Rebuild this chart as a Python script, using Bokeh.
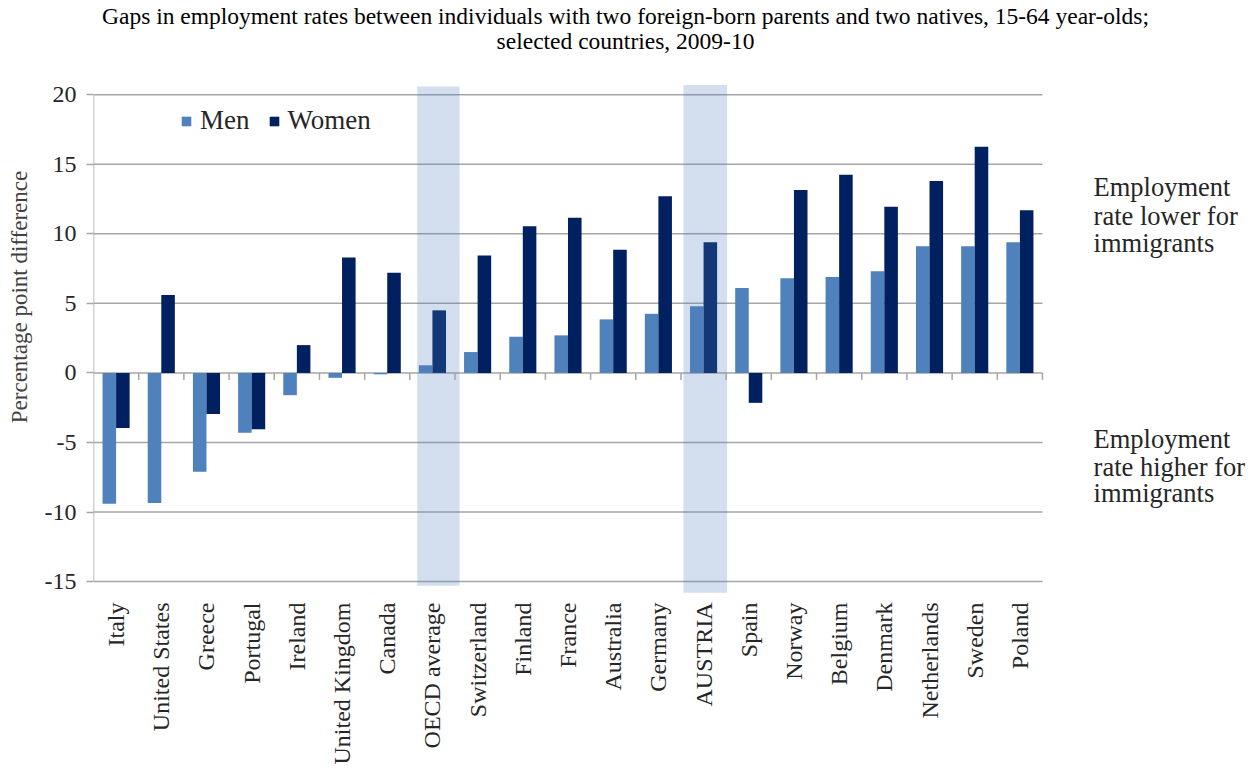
import math
from bokeh.plotting import figure
from bokeh.models import Range1d, FixedTicker, Label, Legend, LegendItem, ColumnDataSource
from bokeh.transform import dodge
from bokeh.embed import file_html
from bokeh.resources import INLINE

countries = ["Italy", "United States", "Greece", "Portugal", "Ireland", "United Kingdom",
             "Canada", "OECD average", "Switzerland", "Finland", "France", "Australia",
             "Germany", "AUSTRIA", "Spain", "Norway", "Belgium", "Denmark", "Netherlands",
             "Sweden", "Poland"]
men = [-9.4, -9.35, -7.1, -4.3, -1.6, -0.35, -0.1, 0.55, 1.5, 2.6, 2.7, 3.85,
       4.25, 4.8, 6.1, 6.8, 6.9, 7.3, 9.1, 9.1, 9.4]
women = [-3.95, 5.6, -2.95, -4.05, 2.0, 8.3, 7.2, 4.5, 8.45, 10.55, 11.15, 8.85,
         12.7, 9.4, -2.15, 13.15, 14.25, 11.95, 13.8, 16.25, 11.7]
highlighted = ["OECD average", "AUSTRIA"]
y_ticks = [-15, -10, -5, 0, 5, 10, 15, 20]
title_lines = ["Gaps in employment rates between individuals with two foreign-born parents "
               "and two natives, 15-64 year-olds;",
               "selected countries, 2009-10"]
note_lower = ["Employment", "rate lower for", "immigrants"]
note_higher = ["Employment", "rate higher for", "immigrants"]

FONT = "Liberation Serif"
MEN_C = "#4F81BD"
WOMEN_C = "#002060"
GRID_C = "#A6A6A6"
TEXT_C = "#262626"

W, H = 1250, 767
idx = list(range(len(countries)))
n = len(countries)

p = figure(width=W, height=H, output_backend="svg", toolbar_location=None,
           x_range=Range1d(-0.5, -0.5 + (W - 93) / 45.19),
           y_range=Range1d(-15.855, 26.771),
           min_border_left=93, min_border_right=0, min_border_top=0, min_border_bottom=H - 598)
p.outline_line_color = None
p.background_fill_color = "white"
p.border_fill_color = "white"
p.xgrid.grid_line_color = None
p.ygrid.grid_line_color = None

# horizontal gridlines over the category span
p.segment(x0=[-0.5] * len(y_ticks), y0=y_ticks, x1=[n - 0.5] * len(y_ticks), y1=y_ticks,
          line_color=GRID_C, line_width=1.5)

# bars
src = ColumnDataSource(dict(x=idx, men=men, women=women))
rm = p.vbar(x=dodge("x", -0.15), top="men", bottom=0, width=0.3, source=src,
            fill_color=MEN_C, line_color=None)
rw = p.vbar(x=dodge("x", 0.15), top="women", bottom=0, width=0.3, source=src,
            fill_color=WOMEN_C, line_color=None)

# highlight bands (drawn on top, translucent)
band_off = {"OECD average": (-0.336, 0.60, -15.3, 20.59), "AUSTRIA": (-0.445, 0.52, -15.8, 20.7)}
hl_i = [countries.index(c) for c in highlighted]
p.quad(left=[i + band_off[c][0] for i, c in zip(hl_i, highlighted)],
       right=[i + band_off[c][1] for i, c in zip(hl_i, highlighted)],
       bottom=[band_off[c][2] for c in highlighted],
       top=[band_off[c][3] for c in highlighted],
       fill_color=MEN_C, fill_alpha=0.25, line_color=None)

# y axis line and boundary ticks on zero line
p.segment(x0=[-0.5], y0=[min(y_ticks)], x1=[-0.5], y1=[max(y_ticks)], line_color=GRID_C, line_width=1.5)
bounds = [i + 0.5 for i in idx]
p.segment(x0=bounds, y0=[0] * len(bounds), x1=bounds, y1=[-0.5] * len(bounds),
          line_color=GRID_C, line_width=1.5)

# y axis
p.yaxis.ticker = FixedTicker(ticks=y_ticks)
p.yaxis.major_label_overrides = {t: str(t) for t in y_ticks}
p.yaxis.axis_line_color = None
p.yaxis.major_tick_in = 0
p.yaxis.major_tick_out = 7
p.yaxis.major_tick_line_color = GRID_C
p.yaxis.major_tick_line_width = 1.5
p.yaxis.minor_tick_line_color = None
p.yaxis.major_label_text_font = FONT
p.yaxis.major_label_text_font_size = "24px"
p.yaxis.major_label_text_color = TEXT_C
p.yaxis.major_label_standoff = 10
p.yaxis.axis_label = "Percentage point difference"
p.yaxis.axis_label_text_font = FONT
p.yaxis.axis_label_text_font_size = "23px"
p.yaxis.axis_label_text_font_style = "normal"
p.yaxis.axis_label_text_color = "#404040"
p.yaxis.axis_label_standoff = 10

# x axis
p.xaxis.ticker = FixedTicker(ticks=idx)
p.xaxis.major_label_overrides = {i: c for i, c in zip(idx, countries)}
p.xaxis.major_label_orientation = math.pi / 2
p.xaxis.axis_line_color = None
p.xaxis.major_tick_line_color = None
p.xaxis.minor_tick_line_color = None
p.xaxis.major_label_text_font = FONT
p.xaxis.major_label_text_font_size = "24px"
p.xaxis.major_label_text_color = TEXT_C
p.xaxis.major_label_standoff = 3

# legend
legend = Legend(items=[LegendItem(label="Men", renderers=[rm]),
                       LegendItem(label="Women", renderers=[rw])],
                location=(87, 457), orientation="horizontal",
                glyph_width=12, glyph_height=12, label_standoff=8, spacing=18,
                padding=0, margin=0, border_line_color=None, background_fill_alpha=0,
                label_text_font=FONT, label_text_font_size="27px", label_text_color=TEXT_C)
p.add_layout(legend)

# title (screen offsets from the frame's bottom-left)
for line, sy in zip(title_lines, [578, 553]):
    p.add_layout(Label(x=532, y=sy, x_units="screen", y_units="screen", text=line,
                       text_align="center", text_baseline="middle", text_font=FONT,
                       text_font_size="23.5px", text_color="black"))

# right annotations, one label per line
for lines, ys in [(note_lower, [13.37, 11.3, 9.31]), (note_higher, [-4.73, -6.73, -8.65])]:
    for line, yv in zip(lines, ys):
        p.add_layout(Label(x=21.63, y=yv, text=line, text_align="left", text_baseline="middle",
                           text_font=FONT, text_font_size="26.5px", text_color=TEXT_C))

open("out.html", "w").write(file_html(p, INLINE))
